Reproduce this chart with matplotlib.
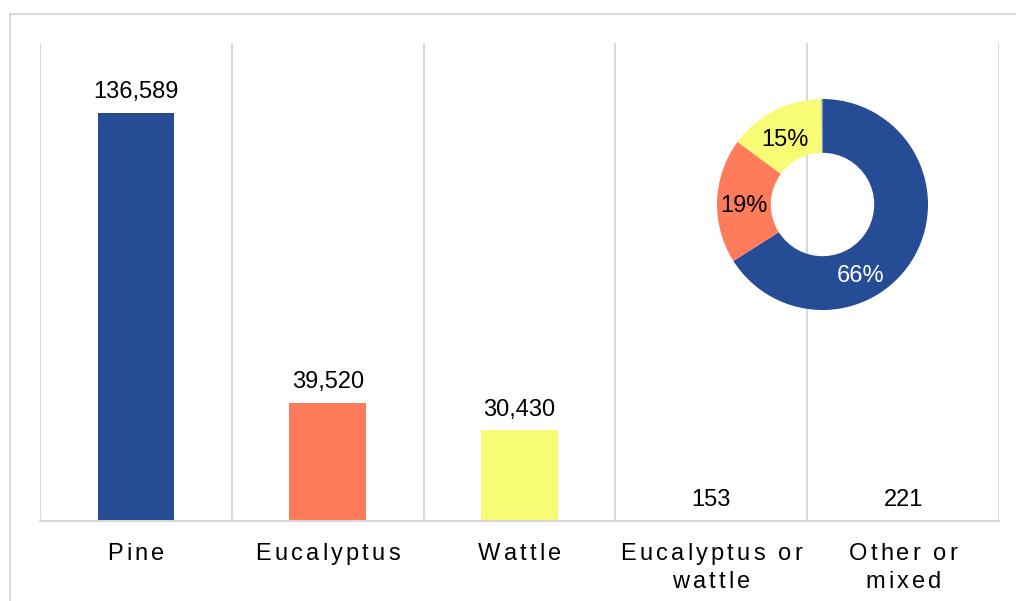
import matplotlib
matplotlib.use("Agg")
import matplotlib.pyplot as plt
from matplotlib.lines import Line2D
from matplotlib.font_manager import findfont, FontProperties
from matplotlib.ft2font import FT2Font

# ---- data ----
categories = ["Pine", "Eucalyptus", "Wattle", "Eucalyptus or\nwattle", "Other or\nmixed"]
values = [136589, 39520, 30430, 153, 221]
value_labels = ["136,589", "39,520", "30,430", "153", "221"]
colors = ["#264C96", "#FF7C5A", "#F8FC74", "#A5A5A5", "#5B9BD5"]
donut_labels = ["66%", "19%", "15%", "", ""]
donut_label_colors = ["white", "black", "black", "black", "black"]

W, H = 1016, 601
DPI = 100
plt.rcParams['font.family'] = ['Liberation Sans', 'DejaVu Sans']
fig = plt.figure(figsize=(W / DPI, H / DPI), dpi=DPI)

# frame lines (cropped border)
fig.add_artist(Line2D([10 / W, 10 / W], [0, 1 - 14 / H], transform=fig.transFigure,
                      color="#D9D9D9", lw=1.5))
fig.add_artist(Line2D([10 / W, 1], [1 - 14 / H, 1 - 14 / H], transform=fig.transFigure,
                      color="#D9D9D9", lw=1.5))

# main axes
ax_l, ax_r, ax_t, ax_b = 40, 999, 43, 521
ax = fig.add_axes([ax_l / W, 1 - ax_b / H, (ax_r - ax_l) / W, (ax_b - ax_t) / H])
x = list(range(len(categories)))
ax.bar(x, values, width=0.4, color=colors[:len(values)])
ax.set_xlim(-0.5, len(categories) - 0.5)
ax.set_ylim(0, 160000)
for b in [i - 0.5 for i in range(len(categories) + 1)]:
    ax.axvline(b, color="#D9D9D9", lw=1.5, zorder=0)
for s in ["top", "right", "left"]:
    ax.spines[s].set_visible(False)
ax.spines["bottom"].set_color("#D9D9D9")
ax.spines["bottom"].set_linewidth(1.5)
ax.set_yticks([])
ax.set_xticks([])

for xi, v, lab in zip(x, values, value_labels):
    ax.annotate(lab, (xi, v), xytext=(0, 10.5), textcoords="offset points",
                ha="center", va="baseline", fontsize=17, color="black")

# letter-spaced category labels
fs = 17
fpath = findfont(FontProperties(family="Liberation Sans"))
ft = FT2Font(fpath)
ft.set_size(fs, DPI)
spacing_px = 3.2

def advance(ch):
    g = ft.load_char(ord(ch))
    return g.linearHoriAdvance / 65536.0

def draw_spaced(xc, y_base_px, s):
    widths = [advance(c) + spacing_px for c in s]
    total = sum(widths) - spacing_px
    cur = xc - total / 2
    for c, w in zip(s, widths):
        fig.text(cur / W, 1 - y_base_px / H, c, fontsize=fs, ha="left", va="baseline",
                 family="Liberation Sans", color="black")
        cur += w

cat_w = (ax_r - ax_l) / len(categories)
for i, cat in enumerate(categories):
    xc = ax_l + cat_w * (i + 0.5)
    for j, line in enumerate(cat.split("\n")):
        draw_spaced(xc, 560 + 27.5 * j, line)

# donut inset
cx, cy, R = 822.5, 204.5, 105.5
dax = fig.add_axes([(cx - R) / W, 1 - (cy + R) / H, 2 * R / W, 2 * R / H])
wedges, texts, autotexts = dax.pie(values, colors=colors[:len(values)], startangle=90,
                                   counterclock=False, radius=1.0,
                                   wedgeprops=dict(width=0.51, linewidth=0),
                                   autopct="%1.0f%%", pctdistance=0.755,
                                   textprops=dict(fontsize=17))
# label placement (Excel-style positions)
label_pos = [(0.360, -0.735), (-0.749, -0.071), (-0.355, 0.555), (0, 0), (0, 0)]
for t, lab, c, p in zip(autotexts, donut_labels, donut_label_colors, label_pos):
    t.set_text(lab)
    t.set_color(c)
    t.set_position(p)
    t.set_va("baseline")
    t.set_ha("center")
dax.set_xlim(-1, 1)
dax.set_ylim(-1, 1)
dax.set_aspect("equal")
dax.axis("off")

fig.savefig("out.png", dpi=DPI)
